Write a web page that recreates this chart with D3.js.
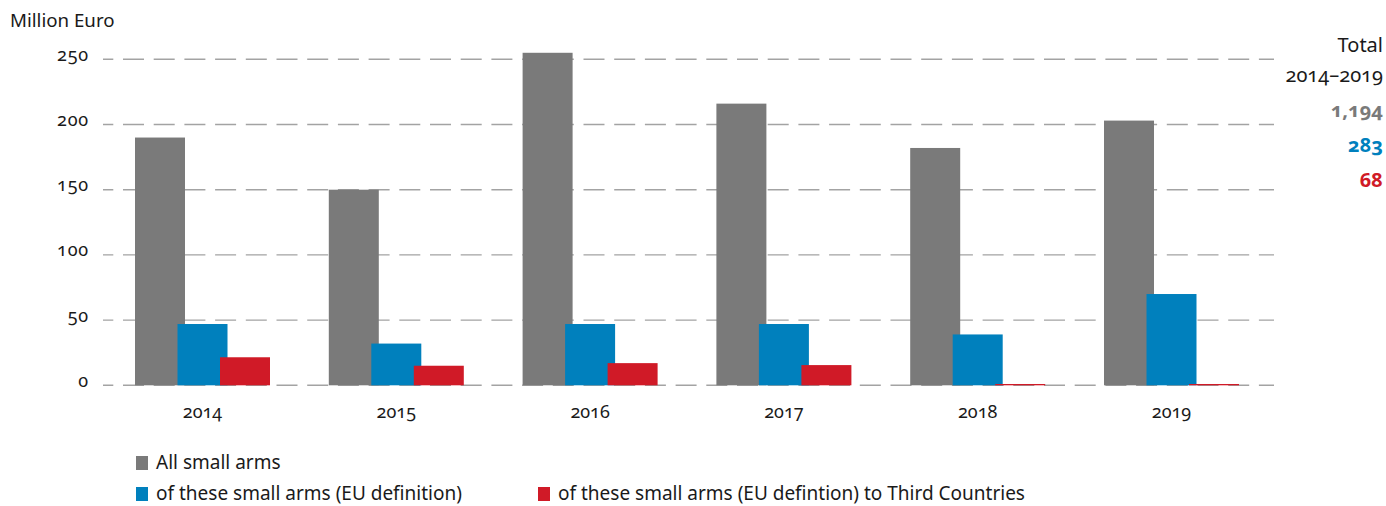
<!DOCTYPE html>
<html>
<head>
<meta charset="utf-8">
<script src="https://cdn.jsdelivr.net/npm/d3@7"></script>
<style>
  html, body { margin: 0; padding: 0; background: #fff; }
  svg { display: block; }
  text { font-family: "Noto Sans", "Open Sans", sans-serif; fill: #1a1a1a; font-variant-numeric: oldstyle-nums; font-feature-settings: "onum" 1; }
</style>
</head>
<body>
<svg id="chart" width="1386" height="506"></svg>
<script>
const years = ["2014", "2015", "2016", "2017", "2018", "2019"];
const seriesNames = ["All small arms", "of these small arms (EU definition)", "of these small arms (EU defintion) to Third Countries"];
const allSmallArms = [190, 150, 255, 216, 182, 203];
const euDefinition = [47, 32, 47, 47, 39, 70];
const thirdCountries = [21.5, 15, 17, 15.5, 1, 1];
const yTicks = [0, 50, 100, 150, 200, 250];
const totalsLabel = ["Total", "2014–2019"];
const totals = ["1,194", "283", "68"];
const colors = ["#7a7a7a", "#0080bd", "#d01a27"];

const seriesValues = [allSmallArms, euDefinition, thirdCountries];

const svg = d3.select("#chart");

const y = d3.scaleLinear().domain([0, 250]).range([385.3, 59.3]);
const x = d3.scaleBand().domain(years).range([105.6, 1268.4]).padding(0);
const off = d3.scalePoint().domain(d3.range(3)).range([-42.5, 42.5]);
const barW = 50;

// gridlines
svg.append("g").selectAll("line").data(yTicks).join("line")
  .attr("x1", 103).attr("x2", 1274)
  .attr("y1", d => y(d)).attr("y2", d => y(d))
  .attr("stroke", "#a3a3a3").attr("stroke-width", 1.4)
  .attr("stroke-dasharray", "21 9.7").attr("stroke-dashoffset", 10.7);

// y tick labels
svg.append("g").selectAll("text").data(yTicks).join("text")
  .attr("x", 89).attr("y", d => y(d) + 1.5)
  .attr("text-anchor", "end").attr("font-size", 18).attr("letter-spacing", 0.8)
  .text(d => d);

svg.append("text").attr("x", 10).attr("y", 27).attr("font-size", 18.7).text("Million Euro");

// bars
seriesValues.forEach((vals, si) => {
  svg.append("g").selectAll("rect").data(vals).join("rect")
    .attr("x", (d, i) => x(years[i]) + x.bandwidth() / 2 + off(si) - barW / 2)
    .attr("width", barW)
    .attr("y", d => y(d))
    .attr("height", d => y(0) - y(d))
    .attr("fill", colors[si]);
});

// x labels
svg.append("g").selectAll("text").data(years).join("text")
  .attr("x", d => x(d) + x.bandwidth() / 2)
  .attr("y", 418)
  .attr("text-anchor", "middle").attr("font-size", 18)
  .text(d => d);

// totals
svg.append("text").attr("x", 1383).attr("y", 52).attr("text-anchor", "end").attr("font-size", 20).text(totalsLabel[0]);
svg.append("text").attr("x", 1383).attr("y", 82).attr("text-anchor", "end").attr("font-size", 20).text(totalsLabel[1]);
const totY = [117, 152, 187];
totals.forEach((t, i) => {
  svg.append("text").attr("x", 1383).attr("y", totY[i]).attr("text-anchor", "end")
    .attr("font-size", 20).attr("font-weight", "bold").style("fill", colors[i]).text(t);
});

// legend
const legendPos = [[136, 463], [136, 494], [538, 494]];
seriesNames.forEach((n, i) => {
  const g = svg.append("g");
  g.append("rect").attr("x", legendPos[i][0]).attr("y", legendPos[i][1] - 7).attr("width", 12).attr("height", 14).attr("fill", colors[i]);
  g.append("text").attr("x", legendPos[i][0] + 20).attr("y", legendPos[i][1] + 6).attr("font-size", 19).text(n);
});
</script>
</body>
</html>
